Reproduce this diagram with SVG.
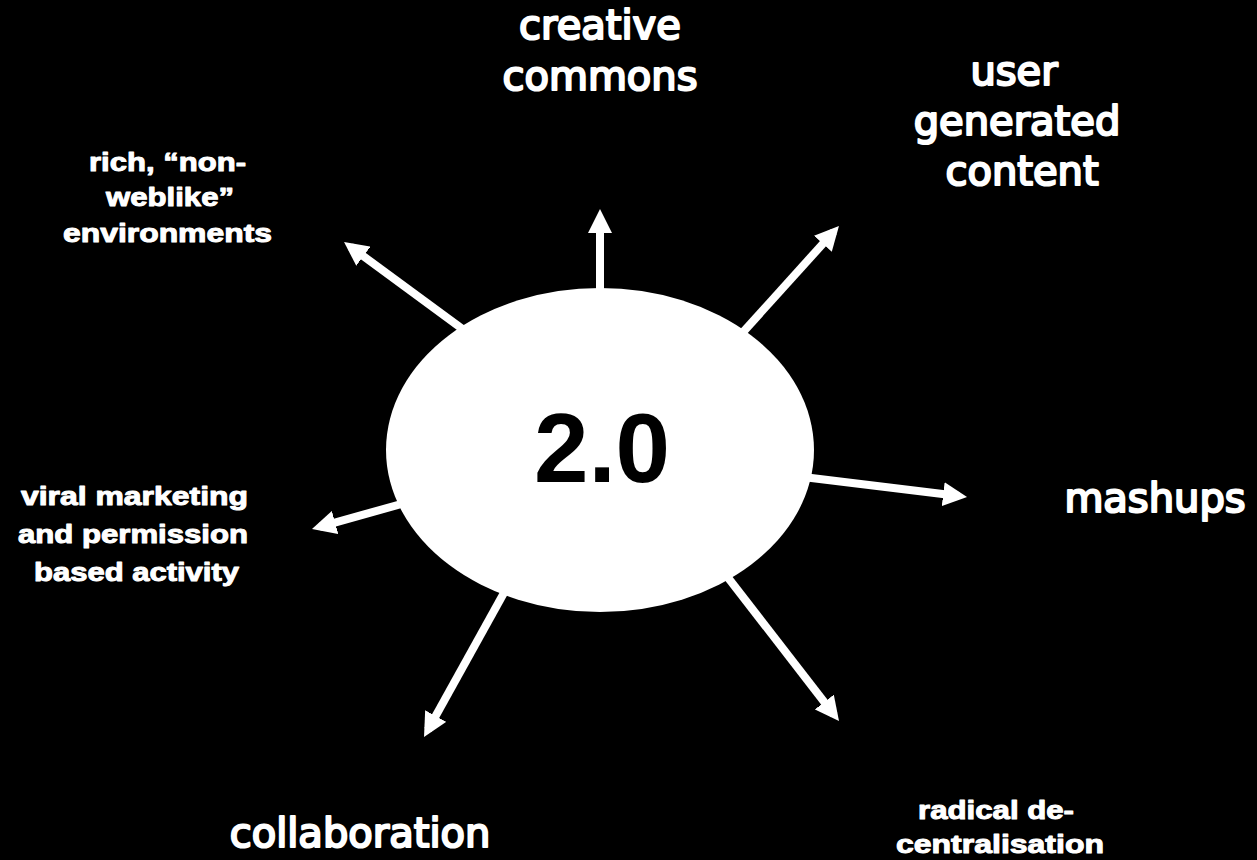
<svg xmlns="http://www.w3.org/2000/svg" width="1257" height="860" viewBox="0 0 1257 860">
  <style>
    .big { font-family: "DejaVu Sans", "Verdana", sans-serif; font-size: 40px; fill: #fff; stroke: #fff; stroke-width: 2.2px; stroke-linejoin: round; text-anchor: middle; }
    .small { font-family: "Liberation Sans", Arial, sans-serif; font-weight: bold; font-size: 26px; fill: #fff; stroke: #fff; stroke-width: 1px; stroke-linejoin: round; text-anchor: middle; }
    .arrow { stroke: #fff; stroke-width: 8; fill: none; marker-end: url(#head); }
    .hub { fill: #fff; }
    .hubtext { font-family: "Liberation Sans", Arial, sans-serif; font-weight: bold; font-size: 98px; fill: #000; text-anchor: middle; }
  </style>
  <defs>
    <marker id="head" markerUnits="userSpaceOnUse" markerWidth="24" markerHeight="24" refX="16" refY="12" orient="auto" viewBox="0 0 24 24">
      <path d="M0,0 L24,12 L0,24 Z" fill="#fff"/>
    </marker>
  </defs>
  <rect x="0" y="0" width="1257" height="860" fill="#000"/>

  <g id="connectors">
    <line class="arrow" x1="600" y1="300" x2="600" y2="217"/>
    <line class="arrow" x1="735" y1="341" x2="833.6" y2="231.9"/>
    <line class="arrow" x1="472" y1="336" x2="350.5" y2="246.7"/>
    <line class="arrow" x1="795" y1="476" x2="959.1" y2="496"/>
    <line class="arrow" x1="412" y1="501" x2="319.7" y2="526.8"/>
    <line class="arrow" x1="510" y1="582" x2="427.9" y2="730"/>
    <line class="arrow" x1="719" y1="566" x2="834.1" y2="714.7"/>
  </g>

  <g id="hub">
    <ellipse class="hub" cx="600" cy="450" rx="214" ry="162"/>
    <text class="hubtext" x="602" y="482">2.0</text>
  </g>

  <g id="creative-commons">
    <text class="big" x="600" y="39">creative</text>
    <text class="big" x="600" y="90">commons</text>
  </g>

  <g id="user-generated-content">
    <text class="big" x="1014" y="85">user</text>
    <text class="big" x="1017" y="135">generated</text>
    <text class="big" x="1022" y="185">content</text>
  </g>

  <g id="mashups">
    <text class="big" x="1155" y="512">mashups</text>
  </g>

  <g id="collaboration">
    <text class="big" x="360" y="847">collaboration</text>
  </g>

  <g id="rich-environments">
    <text class="small" x="167.5" y="171" textLength="157" lengthAdjust="spacingAndGlyphs">rich, “non-</text>
    <text class="small" x="170" y="206" textLength="128" lengthAdjust="spacingAndGlyphs">weblike”</text>
    <text class="small" x="167.5" y="242" textLength="209" lengthAdjust="spacingAndGlyphs">environments</text>
  </g>

  <g id="viral-marketing">
    <text class="small" x="134.5" y="505" textLength="227" lengthAdjust="spacingAndGlyphs">viral marketing</text>
    <text class="small" x="133" y="543" textLength="230" lengthAdjust="spacingAndGlyphs">and permission</text>
    <text class="small" x="136.5" y="581" textLength="205" lengthAdjust="spacingAndGlyphs">based activity</text>
  </g>

  <g id="radical-decentralisation">
    <text class="small" x="996" y="819" textLength="156" lengthAdjust="spacingAndGlyphs">radical de-</text>
    <text class="small" x="1000" y="853" textLength="208" lengthAdjust="spacingAndGlyphs">centralisation</text>
  </g>
</svg>
